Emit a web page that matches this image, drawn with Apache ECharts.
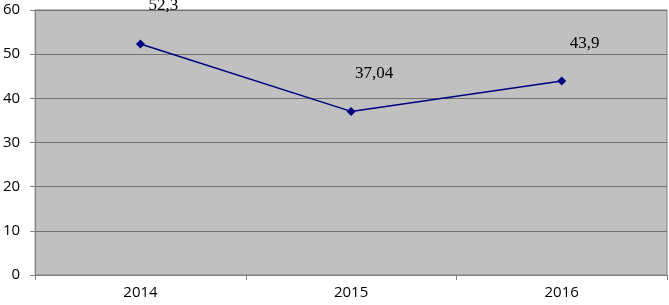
<!DOCTYPE html>
<html><head><meta charset="utf-8">
<script src="https://cdn.jsdelivr.net/npm/echarts@6/dist/echarts.min.js"></script>
<style>html,body{margin:0;padding:0;background:#fff}#c{width:669px;height:305px}</style>
</head><body><div id="c"></div>
<script>
const categories = ['2014', '2015', '2016'];
const values = [52.3, 37.04, 43.9];
const valueLabels = ['52,3', '37,04', '43,9'];

const chart = echarts.init(document.getElementById('c'), null, {renderer: 'canvas'});
chart.setOption({
  animation: false,
  grid: {left: 34, right: 2, top: 10, bottom: 30, show: true, backgroundColor: '#c0c0c0', borderColor: '#808080', borderWidth: 1},
  xAxis: {
    type: 'category', data: categories, boundaryGap: true,
    axisLine: {lineStyle: {color: '#808080', width: 1}},
    axisTick: {show: true, length: 5, lineStyle: {color: '#808080'}},
    axisLabel: {color: '#000', fontSize: 15, fontFamily: 'Open Sans', margin: 10}
  },
  yAxis: {
    type: 'value', min: 0, max: 60, interval: 10,
    axisLine: {show: true, lineStyle: {color: '#808080', width: 1}},
    axisTick: {show: true, length: 5, lineStyle: {color: '#808080'}},
    axisLabel: {color: '#000', fontSize: 15, fontFamily: 'Open Sans', margin: 15},
    splitLine: {lineStyle: {color: '#707070', width: 1}}
  },
  series: [{
    type: 'line', data: values,
    symbol: 'diamond', symbolSize: 9,
    lineStyle: {color: '#000080', width: 1.5},
    itemStyle: {color: '#000080'},
    label: {
      show: true, position: 'top', offset: [23, -20],
      formatter: p => valueLabels[p.dataIndex],
      color: '#000', fontSize: 17, fontFamily: 'Liberation Serif'
    }
  }]
});
</script></body></html>
